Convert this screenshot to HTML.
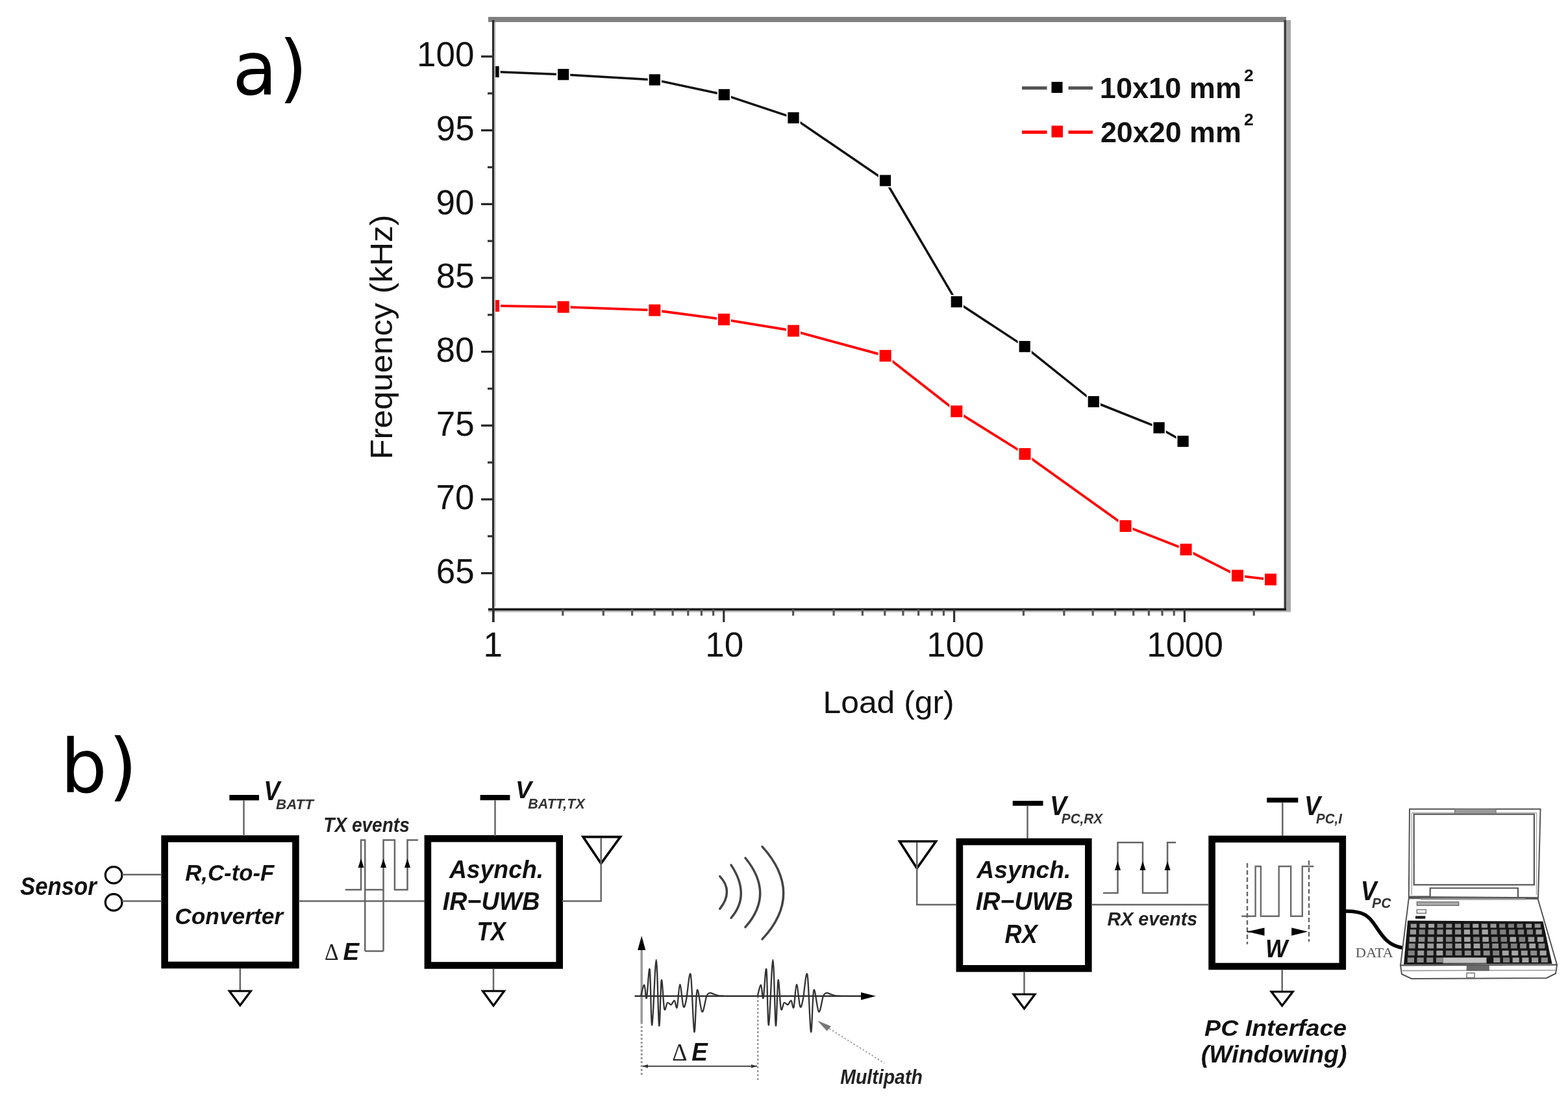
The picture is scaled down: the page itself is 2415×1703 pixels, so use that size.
<!DOCTYPE html>
<html><head><meta charset="utf-8"><title>Figure</title>
<style>html,body{margin:0;padding:0;background:#fff;overflow:hidden}svg{display:block}</style>
</head><body>
<svg width="2415" height="1703" viewBox="0 0 2415 1703">
<rect width="2415" height="1703" fill="#fff"/>
<rect x="752" y="26" width="1229" height="8" fill="#808080"/>
<rect x="1977.5" y="31" width="3.5" height="910" fill="#404040"/>
<rect x="1981" y="31" width="7" height="911" fill="#a8a8a8"/>
<rect x="752" y="936.5" width="1229" height="3.5" fill="#1a1a1a"/>
<rect x="752" y="940" width="1236" height="2.5" fill="#b0b0b0"/>
<rect x="758" y="31" width="3.2" height="927" fill="#2a2a2a"/>
<rect x="761.2" y="34" width="2" height="900" fill="#bdbdbd"/>
<rect x="741" y="881.0" width="18" height="3.2" fill="#222"/>
<rect x="741" y="767.3" width="18" height="3.2" fill="#222"/>
<rect x="741" y="653.6" width="18" height="3.2" fill="#222"/>
<rect x="741" y="540.0" width="18" height="3.2" fill="#222"/>
<rect x="741" y="426.3" width="18" height="3.2" fill="#222"/>
<rect x="741" y="312.7" width="18" height="3.2" fill="#222"/>
<rect x="741" y="199.1" width="18" height="3.2" fill="#222"/>
<rect x="741" y="85.4" width="18" height="3.2" fill="#222"/>
<rect x="751" y="142.2" width="8" height="3.2" fill="#333"/>
<rect x="751" y="255.9" width="8" height="3.2" fill="#333"/>
<rect x="751" y="369.5" width="8" height="3.2" fill="#333"/>
<rect x="751" y="483.2" width="8" height="3.2" fill="#333"/>
<rect x="751" y="596.8" width="8" height="3.2" fill="#333"/>
<rect x="751" y="710.5" width="8" height="3.2" fill="#333"/>
<rect x="751" y="824.1" width="8" height="3.2" fill="#333"/>
<rect x="758.4" y="938" width="3.2" height="20" fill="#333"/>
<rect x="865.2" y="938" width="3.2" height="10" fill="#555"/>
<rect x="927.7" y="938" width="3.2" height="10" fill="#555"/>
<rect x="972.0" y="938" width="3.2" height="10" fill="#555"/>
<rect x="1006.4" y="938" width="3.2" height="10" fill="#555"/>
<rect x="1034.5" y="938" width="3.2" height="10" fill="#555"/>
<rect x="1058.2" y="938" width="3.2" height="10" fill="#555"/>
<rect x="1078.8" y="938" width="3.2" height="10" fill="#555"/>
<rect x="1097.0" y="938" width="3.2" height="10" fill="#555"/>
<rect x="1113.2" y="938" width="3.2" height="20" fill="#333"/>
<rect x="1220.0" y="938" width="3.2" height="10" fill="#555"/>
<rect x="1282.5" y="938" width="3.2" height="10" fill="#555"/>
<rect x="1326.8" y="938" width="3.2" height="10" fill="#555"/>
<rect x="1361.2" y="938" width="3.2" height="10" fill="#555"/>
<rect x="1389.3" y="938" width="3.2" height="10" fill="#555"/>
<rect x="1413.0" y="938" width="3.2" height="10" fill="#555"/>
<rect x="1433.6" y="938" width="3.2" height="10" fill="#555"/>
<rect x="1451.8" y="938" width="3.2" height="10" fill="#555"/>
<rect x="1468.0" y="938" width="3.2" height="20" fill="#333"/>
<rect x="1574.8" y="938" width="3.2" height="10" fill="#555"/>
<rect x="1637.3" y="938" width="3.2" height="10" fill="#555"/>
<rect x="1681.6" y="938" width="3.2" height="10" fill="#555"/>
<rect x="1716.0" y="938" width="3.2" height="10" fill="#555"/>
<rect x="1744.1" y="938" width="3.2" height="10" fill="#555"/>
<rect x="1767.8" y="938" width="3.2" height="10" fill="#555"/>
<rect x="1788.4" y="938" width="3.2" height="10" fill="#555"/>
<rect x="1806.6" y="938" width="3.2" height="10" fill="#555"/>
<rect x="1822.8" y="938" width="3.2" height="20" fill="#333"/>
<rect x="1929.6" y="938" width="3.2" height="10" fill="#555"/>
<clipPath id="pc"><rect x="760.8" y="34" width="1217" height="903"/></clipPath>
<g clip-path="url(#pc)">
<path d="M760.0,110.5 L867.6,114.7 L1008.3,122.9 L1115.3,145.8 L1222.0,181.4 L1363.5,278.0 L1473.3,464.7 L1578.2,533.6 L1684.3,618.5 L1785.1,658.7 L1822.1,679.5" fill="none" stroke="#111" stroke-width="3.5" stroke-linejoin="round"/>
<path d="M760.0,470.9 L867.6,472.7 L1008.3,477.7 L1115.0,491.9 L1222.0,509.4 L1363.6,547.8 L1473.3,633.4 L1578.5,699.0 L1733.5,810.0 L1826.6,846.2 L1906.0,886.4 L1957.0,892.3" fill="none" stroke="#ff0000" stroke-width="3.8" stroke-linejoin="round"/>
<rect x="749.4" y="99.9" width="21.2" height="21.2" fill="#fff"/>
<rect x="751.4" y="101.9" width="17.2" height="17.2" fill="#000"/>
<rect x="857.0" y="104.1" width="21.2" height="21.2" fill="#fff"/>
<rect x="859.0" y="106.1" width="17.2" height="17.2" fill="#000"/>
<rect x="997.7" y="112.3" width="21.2" height="21.2" fill="#fff"/>
<rect x="999.7" y="114.3" width="17.2" height="17.2" fill="#000"/>
<rect x="1104.7" y="135.2" width="21.2" height="21.2" fill="#fff"/>
<rect x="1106.7" y="137.2" width="17.2" height="17.2" fill="#000"/>
<rect x="1211.4" y="170.8" width="21.2" height="21.2" fill="#fff"/>
<rect x="1213.4" y="172.8" width="17.2" height="17.2" fill="#000"/>
<rect x="1352.9" y="267.4" width="21.2" height="21.2" fill="#fff"/>
<rect x="1354.9" y="269.4" width="17.2" height="17.2" fill="#000"/>
<rect x="1462.7" y="454.1" width="21.2" height="21.2" fill="#fff"/>
<rect x="1464.7" y="456.1" width="17.2" height="17.2" fill="#000"/>
<rect x="1567.6" y="523.0" width="21.2" height="21.2" fill="#fff"/>
<rect x="1569.6" y="525.0" width="17.2" height="17.2" fill="#000"/>
<rect x="1673.7" y="607.9" width="21.2" height="21.2" fill="#fff"/>
<rect x="1675.7" y="609.9" width="17.2" height="17.2" fill="#000"/>
<rect x="1774.5" y="648.1" width="21.2" height="21.2" fill="#fff"/>
<rect x="1776.5" y="650.1" width="17.2" height="17.2" fill="#000"/>
<rect x="1811.5" y="668.9" width="21.2" height="21.2" fill="#fff"/>
<rect x="1813.5" y="670.9" width="17.2" height="17.2" fill="#000"/>
<rect x="749.0" y="459.9" width="22.0" height="22.0" fill="#fff"/>
<rect x="751.0" y="461.9" width="18" height="18" fill="#ff0000"/>
<rect x="856.6" y="461.7" width="22.0" height="22.0" fill="#fff"/>
<rect x="858.6" y="463.7" width="18" height="18" fill="#ff0000"/>
<rect x="997.3" y="466.7" width="22.0" height="22.0" fill="#fff"/>
<rect x="999.3" y="468.7" width="18" height="18" fill="#ff0000"/>
<rect x="1104.0" y="480.9" width="22.0" height="22.0" fill="#fff"/>
<rect x="1106.0" y="482.9" width="18" height="18" fill="#ff0000"/>
<rect x="1211.0" y="498.4" width="22.0" height="22.0" fill="#fff"/>
<rect x="1213.0" y="500.4" width="18" height="18" fill="#ff0000"/>
<rect x="1352.6" y="536.8" width="22.0" height="22.0" fill="#fff"/>
<rect x="1354.6" y="538.8" width="18" height="18" fill="#ff0000"/>
<rect x="1462.3" y="622.4" width="22.0" height="22.0" fill="#fff"/>
<rect x="1464.3" y="624.4" width="18" height="18" fill="#ff0000"/>
<rect x="1567.5" y="688.0" width="22.0" height="22.0" fill="#fff"/>
<rect x="1569.5" y="690.0" width="18" height="18" fill="#ff0000"/>
<rect x="1722.5" y="799.0" width="22.0" height="22.0" fill="#fff"/>
<rect x="1724.5" y="801.0" width="18" height="18" fill="#ff0000"/>
<rect x="1815.6" y="835.2" width="22.0" height="22.0" fill="#fff"/>
<rect x="1817.6" y="837.2" width="18" height="18" fill="#ff0000"/>
<rect x="1895.0" y="875.4" width="22.0" height="22.0" fill="#fff"/>
<rect x="1897.0" y="877.4" width="18" height="18" fill="#ff0000"/>
<rect x="1946.0" y="881.3" width="22.0" height="22.0" fill="#fff"/>
<rect x="1948.0" y="883.3" width="18" height="18" fill="#ff0000"/>
</g>
<rect x="758" y="31" width="3.2" height="927" fill="#2a2a2a"/>
<rect x="761.2" y="34" width="2" height="900" fill="#bdbdbd"/>
<rect x="1574" y="133" width="38.5" height="5" fill="#555"/>
<rect x="1645.5" y="133" width="37.5" height="5" fill="#555"/>
<rect x="1619.5" y="126" width="17" height="17" fill="#000"/>
<rect x="1574" y="201" width="38.5" height="5" fill="#ff0000"/>
<rect x="1645.5" y="201" width="37.5" height="5" fill="#ff0000"/>
<rect x="1619.5" y="193.5" width="17.5" height="18" fill="#ff0000"/>
<text transform="translate(671.7,897.9) scale(0.990,1)" style="font-family:'Liberation Sans',Arial,sans-serif;font-size:53.5px" fill="#111">65</text>
<text transform="translate(671.5,784.2) scale(0.990,1)" style="font-family:'Liberation Sans',Arial,sans-serif;font-size:53.5px" fill="#111">70</text>
<text transform="translate(671.7,670.5) scale(0.990,1)" style="font-family:'Liberation Sans',Arial,sans-serif;font-size:53.5px" fill="#111">75</text>
<text transform="translate(671.5,556.9) scale(0.990,1)" style="font-family:'Liberation Sans',Arial,sans-serif;font-size:53.5px" fill="#111">80</text>
<text transform="translate(671.7,443.2) scale(0.990,1)" style="font-family:'Liberation Sans',Arial,sans-serif;font-size:53.5px" fill="#111">85</text>
<text transform="translate(671.5,329.6) scale(0.990,1)" style="font-family:'Liberation Sans',Arial,sans-serif;font-size:53.5px" fill="#111">90</text>
<text transform="translate(671.7,216.0) scale(0.990,1)" style="font-family:'Liberation Sans',Arial,sans-serif;font-size:53.5px" fill="#111">95</text>
<text transform="translate(642.1,102.3) scale(0.990,1)" style="font-family:'Liberation Sans',Arial,sans-serif;font-size:53.5px" fill="#111">100</text>
<text transform="translate(744.5,1011.3) scale(0.990,1)" style="font-family:'Liberation Sans',Arial,sans-serif;font-size:53.5px" fill="#111">1</text>
<text transform="translate(1086.2,1011.3) scale(0.990,1)" style="font-family:'Liberation Sans',Arial,sans-serif;font-size:53.5px" fill="#111">10</text>
<text transform="translate(1427.3,1011.3) scale(0.990,1)" style="font-family:'Liberation Sans',Arial,sans-serif;font-size:53.5px" fill="#111">100</text>
<text transform="translate(1766.2,1011.3) scale(0.990,1)" style="font-family:'Liberation Sans',Arial,sans-serif;font-size:53.5px" fill="#111">1000</text>
<text transform="translate(1267.5,1098.2) scale(1.038,1)" style="font-family:'Liberation Sans',Arial,sans-serif;font-size:48.0px" fill="#111">Load (gr)</text>
<text transform="translate(604.2,707.6) rotate(-90) scale(1.042,1)" style="font-family:'Liberation Sans',Arial,sans-serif;font-size:49.0px" fill="#111">Frequency (kHz)</text>
<text transform="translate(1693.8,151.0) scale(1.026,1)" style="font-family:'Liberation Sans',Arial,sans-serif;font-weight:bold;font-size:44.0px" fill="#111">10x10 mm</text>
<text transform="translate(1694.9,218.9) scale(0.995,1)" style="font-family:'Liberation Sans',Arial,sans-serif;font-weight:bold;font-size:45.1px" fill="#111">20x20 mm</text>
<text transform="translate(1916.1,124.5) scale(1.018,1)" style="font-family:'Liberation Sans',Arial,sans-serif;font-weight:bold;font-size:26.0px" fill="#111">2</text>
<text transform="translate(1916.1,192.6) scale(1.007,1)" style="font-family:'Liberation Sans',Arial,sans-serif;font-weight:bold;font-size:26.3px" fill="#111">2</text>
<text transform="translate(358.1,145.3) scale(0.990,1)" style="font-family:'DejaVu Sans',sans-serif;font-size:114.0px" fill="#000">a<tspan dx="2.3" dy="-1.2">)</tspan></text>
<text transform="translate(93.3,1220.2) scale(0.990,1)" style="font-family:'DejaVu Sans',sans-serif;font-size:114.0px" fill="#000">b<tspan dx="2.4" dy="-0.8">)</tspan></text>
<rect x="253.6" y="1291.5" width="201.8" height="194.5" fill="none" stroke="#000" stroke-width="10.6"/>
<rect x="658.9" y="1291.3" width="202.8" height="195.2" fill="none" stroke="#000" stroke-width="10.6"/>
<rect x="1477.9" y="1296.1" width="198.4" height="195.2" fill="none" stroke="#000" stroke-width="10.6"/>
<rect x="1866.6" y="1292.0" width="201.2" height="196.0" fill="none" stroke="#000" stroke-width="10.6"/>
<rect x="353.3" y="1224" width="45.7" height="8.4" fill="#000"/>
<line x1="375.5" y1="1232.4" x2="375.5" y2="1287" stroke="#666" stroke-width="2.5" fill="none"/>
<rect x="739.6" y="1224" width="45.8" height="8.2" fill="#000"/>
<line x1="762.5" y1="1232.2" x2="762.5" y2="1287" stroke="#666" stroke-width="2.5" fill="none"/>
<rect x="1559.7" y="1233.1" width="46.8" height="7.6" fill="#000"/>
<line x1="1582.5" y1="1240.7" x2="1582.5" y2="1291" stroke="#666" stroke-width="2.5" fill="none"/>
<rect x="1951.2" y="1228.3" width="48.1" height="7.4" fill="#000"/>
<line x1="1975.3" y1="1235.7" x2="1975.3" y2="1287" stroke="#666" stroke-width="2.5" fill="none"/>
<line x1="369.8" y1="1491" x2="369.8" y2="1526" stroke="#666" stroke-width="2.5" fill="none"/>
<path d="M353.3,1526.0 L386.3,1526.0 L369.8,1548.0 Z" fill="#fff" stroke="#000" stroke-width="3.2" stroke-linejoin="miter"/>
<line x1="760" y1="1491.8" x2="760" y2="1526" stroke="#666" stroke-width="2.5" fill="none"/>
<path d="M743.5,1526.0 L776.5,1526.0 L760.0,1548.5 Z" fill="#fff" stroke="#000" stroke-width="3.2" stroke-linejoin="miter"/>
<line x1="1577.5" y1="1496.6" x2="1577.5" y2="1531" stroke="#666" stroke-width="2.5" fill="none"/>
<path d="M1561.0,1531.0 L1594.0,1531.0 L1577.5,1553.0 Z" fill="#fff" stroke="#000" stroke-width="3.2" stroke-linejoin="miter"/>
<line x1="1974.7" y1="1493.3" x2="1974.7" y2="1527" stroke="#666" stroke-width="2.5" fill="none"/>
<path d="M1958.2,1527.0 L1991.2,1527.0 L1974.7,1548.5 Z" fill="#fff" stroke="#000" stroke-width="3.2" stroke-linejoin="miter"/>
<circle cx="175.1" cy="1347.4" r="12.8" fill="none" stroke="#000" stroke-width="3.2"/>
<circle cx="175.1" cy="1389.4" r="12.8" fill="none" stroke="#000" stroke-width="3.2"/>
<line x1="188" y1="1346.8" x2="249" y2="1346.8" stroke="#666" stroke-width="2.5" fill="none"/>
<line x1="188" y1="1387.6" x2="249" y2="1387.6" stroke="#666" stroke-width="2.5" fill="none"/>
<line x1="460" y1="1387.4" x2="654" y2="1387.4" stroke="#666" stroke-width="2.5" fill="none"/>
<path d="M531.7,1369.9 H556 V1293.6 H562.2 V1369.9 H590.5 V1293.6 H607.9 V1369.9 H627.5 V1293.6 H643.8" stroke="#666" stroke-width="2.5" fill="none"/>
<path d="M562.2,1369.9 V1464.6 M590.5,1369.9 V1464.6 M562.2,1464.6 H590.5" stroke="#666" stroke-width="2.5" fill="none"/>
<path d="M551.5,1336 L560.5,1336 L556.0,1322 Z" fill="#000"/>
<path d="M586.0,1336 L595.0,1336 L590.5,1322 Z" fill="#000"/>
<path d="M623.0,1336 L632.0,1336 L627.5,1322 Z" fill="#000"/>
<path d="M898,1288.6 L955.5,1288.6 L925.7,1329.5 Z" fill="none" stroke="#000" stroke-width="3.6" stroke-linejoin="miter"/>
<path d="M925.7,1290 V1387.4 H866" stroke="#666" stroke-width="2.5" fill="none"/>
<path d="M1385.5,1295.5 L1441.5,1295.5 L1412.2,1337 Z" fill="none" stroke="#000" stroke-width="3.6" stroke-linejoin="miter"/>
<path d="M1412.2,1297 V1393.1 H1473" stroke="#666" stroke-width="2.5" fill="none"/>
<line x1="1681" y1="1393.1" x2="1862" y2="1393.1" stroke="#666" stroke-width="2.5" fill="none"/>
<path d="M1699,1375 H1721.5 V1297.3 H1760 V1375 H1798.1 V1297.3 H1811.2" stroke="#666" stroke-width="2.5" fill="none"/>
<path d="M1717.0,1340 L1726.0,1340 L1721.5,1326 Z" fill="#000"/>
<path d="M1755.5,1340 L1764.5,1340 L1760.0,1326 Z" fill="#000"/>
<path d="M1793.6,1340 L1802.6,1340 L1798.1,1326 Z" fill="#000"/>
<path d="M1912.3,1410.8 H1933.6 V1334 H1941.9 V1410.8 H1969.7 V1334 H1988.2 V1410.8 H2005.8 V1334 H2023.4" stroke="#6a6a6a" stroke-width="2.4" fill="none"/>
<line x1="1921" y1="1329" x2="1921" y2="1454" stroke="#666" stroke-width="2.4" stroke-dasharray="7,4"/>
<line x1="2016" y1="1325" x2="2016" y2="1450" stroke="#666" stroke-width="2.4" stroke-dasharray="7,4"/>
<path d="M1921,1434.6 L1947.5,1428.4 L1947.5,1440.8 Z" fill="#000"/>
<path d="M2014.2,1434.6 L1989.2,1428.4 L1989.2,1440.8 Z" fill="#000"/>
<line x1="1921" y1="1434.6" x2="1947" y2="1434.6" stroke="#000" stroke-width="2"/>
<path d="M1108.7,1349.3 Q1130.3,1372.1 1108.7,1399.4" fill="none" stroke="#444" stroke-width="3.4" stroke-linecap="round"/>
<path d="M1126,1331.9 Q1156.6,1378.1 1126,1413.5" fill="none" stroke="#444" stroke-width="3.4" stroke-linecap="round"/>
<path d="M1147.9,1321 Q1193.5,1376.5 1147.9,1427.7" fill="none" stroke="#444" stroke-width="3.4" stroke-linecap="round"/>
<path d="M1174,1303.6 Q1239.4,1375.9 1174,1446.2" fill="none" stroke="#444" stroke-width="3.4" stroke-linecap="round"/>
<line x1="988.2" y1="1460" x2="988.2" y2="1574" stroke="#999" stroke-width="3.5"/>
<line x1="988.2" y1="1574" x2="988.2" y2="1655" stroke="#999" stroke-width="3" stroke-dasharray="3,3"/>
<line x1="1167.2" y1="1534" x2="1167.2" y2="1665" stroke="#999" stroke-width="2.5" stroke-dasharray="3,3"/>
<path d="M988.2,1441 L994.3,1463 L982.1,1463 Z" fill="#000"/>
<line x1="977.5" y1="1533.8" x2="1330" y2="1533.8" stroke="#333" stroke-width="2.6"/>
<path d="M1349,1533.8 L1326,1528 L1326,1539.8 Z" fill="#000"/>
<line x1="990" y1="1641.7" x2="1166" y2="1641.7" stroke="#444" stroke-width="2"/>
<path d="M989,1641.7 L998,1639 L998,1644.4 Z" fill="#333"/>
<path d="M1166,1641.7 L1157,1639 L1157,1644.4 Z" fill="#333"/>
<path d="M987.0,1533.8 C987.9,1530.9 990.8,1516.1 992.3,1516.6 C993.8,1517.1 994.5,1540.6 995.9,1536.6 C997.3,1532.6 999.3,1485.5 1000.7,1492.5 C1002.1,1499.5 1002.6,1580.8 1004.3,1578.4 C1006.0,1576.0 1008.9,1477.9 1010.7,1478.0 C1012.5,1478.1 1013.8,1574.0 1015.1,1579.2 C1016.5,1584.4 1017.4,1513.6 1018.8,1509.3 C1020.1,1505.0 1021.7,1547.7 1023.2,1553.5 C1024.7,1559.3 1026.3,1545.0 1028.0,1543.9 C1029.7,1542.8 1031.8,1547.6 1033.6,1547.1 C1035.4,1546.5 1037.3,1539.9 1038.8,1540.6 C1040.3,1541.3 1041.4,1555.2 1042.8,1551.1 C1044.2,1547.0 1045.6,1516.1 1047.2,1515.8 C1048.8,1515.5 1050.9,1545.5 1052.5,1549.5 C1054.1,1553.5 1055.0,1548.0 1056.9,1539.8 C1058.8,1531.6 1061.6,1492.3 1063.7,1500.5 C1065.8,1508.7 1067.6,1584.8 1069.3,1588.8 C1071.0,1592.8 1071.7,1529.8 1073.7,1524.6 C1075.7,1519.4 1079.0,1556.3 1081.4,1557.9 C1083.8,1559.5 1086.3,1539.0 1088.2,1534.2 C1090.1,1529.4 1091.0,1529.5 1093.0,1529.0 C1095.0,1528.5 1097.8,1530.3 1100.2,1531.0 C1102.6,1531.7 1105.0,1532.9 1107.5,1533.4 C1110.0,1533.9 1113.8,1533.7 1115.0,1533.8" fill="none" stroke="#333" stroke-width="2.3"/>
<path transform="translate(179.7,0)" d="M987.0,1533.8 C987.9,1530.9 990.8,1516.1 992.3,1516.6 C993.8,1517.1 994.5,1540.6 995.9,1536.6 C997.3,1532.6 999.3,1485.5 1000.7,1492.5 C1002.1,1499.5 1002.6,1580.8 1004.3,1578.4 C1006.0,1576.0 1008.9,1477.9 1010.7,1478.0 C1012.5,1478.1 1013.8,1574.0 1015.1,1579.2 C1016.5,1584.4 1017.4,1513.6 1018.8,1509.3 C1020.1,1505.0 1021.7,1547.7 1023.2,1553.5 C1024.7,1559.3 1026.3,1545.0 1028.0,1543.9 C1029.7,1542.8 1031.8,1547.6 1033.6,1547.1 C1035.4,1546.5 1037.3,1539.9 1038.8,1540.6 C1040.3,1541.3 1041.4,1555.2 1042.8,1551.1 C1044.2,1547.0 1045.6,1516.1 1047.2,1515.8 C1048.8,1515.5 1050.9,1545.5 1052.5,1549.5 C1054.1,1553.5 1055.0,1548.0 1056.9,1539.8 C1058.8,1531.6 1061.6,1492.3 1063.7,1500.5 C1065.8,1508.7 1067.6,1584.8 1069.3,1588.8 C1071.0,1592.8 1071.7,1529.8 1073.7,1524.6 C1075.7,1519.4 1079.0,1556.3 1081.4,1557.9 C1083.8,1559.5 1086.3,1539.0 1088.2,1534.2 C1090.1,1529.4 1091.0,1529.5 1093.0,1529.0 C1095.0,1528.5 1097.8,1530.3 1100.2,1531.0 C1102.6,1531.7 1105.0,1532.9 1107.5,1533.4 C1110.0,1533.9 1113.8,1533.7 1115.0,1533.8" fill="none" stroke="#333" stroke-width="2.3"/>
<line x1="1268" y1="1578" x2="1362" y2="1637" stroke="#999" stroke-width="1.8" stroke-dasharray="2.5,3"/>
<path d="M1258.9,1571.6 L1280.1,1580.2 L1273.6,1587.5 Z" fill="#777"/>
<path d="M2073,1403 C2100,1403 2108,1410 2118,1425 C2130,1443 2138,1456 2161,1459.6" fill="none" stroke="#000" stroke-width="5.5"/>
<path d="M2171,1245.8 L2372.5,1245.8 L2369.1,1382.2 L2169.8,1381.1 Z" fill="#fff" stroke="#555" stroke-width="2"/>
<path d="M2174.3,1252 L2174.3,1378 M2174.3,1251.5 H2240 M2304,1251.5 H2366.5 V1378" fill="none" stroke="#aaa" stroke-width="1.4"/>
<rect x="2177.7" y="1253.7" width="185.2" height="108.7" fill="#fff" stroke="#555" stroke-width="2.2"/>
<rect x="2240.6" y="1245.8" width="63.4" height="7.3" fill="#999" stroke="#666" stroke-width="1"/>
<path d="M2170.4,1380.5 H2202.7 V1367.5 H2338 V1382.8 H2368.6" fill="none" stroke="#555" stroke-width="2.2"/>
<path d="M2169.8,1383 L2368.6,1384 L2398,1485.5 L2157,1486.6 Z" fill="#fff" stroke="#555" stroke-width="2"/>
<line x1="2188.5" y1="1384.8" x2="2349.3" y2="1384.8" stroke="#aaa" stroke-width="2.6"/>
<path d="M2168.1,1417.6 L2376.5,1418.7 L2390.5,1484 L2162,1485 Z" fill="#161616"/>
<rect x="2182.3" y="1388.7" width="64.5" height="5.6" fill="#aaa" stroke="#666" stroke-width="1.2"/>
<rect x="2182.3" y="1400.6" width="14" height="5.6" fill="#fff" stroke="#777" stroke-width="1.5"/>
<rect x="2180" y="1410.4" width="15.3" height="4.2" fill="#1a1a1a"/>
<rect x="2172.7" y="1422.5" width="9.1" height="6" fill="#9a9a9a"/>
<rect x="2186.3" y="1422.5" width="9.1" height="6" fill="#9a9a9a"/>
<rect x="2200.0" y="1422.5" width="9.1" height="6" fill="#a6a6a6"/>
<rect x="2213.6" y="1422.5" width="9.1" height="6" fill="#808080"/>
<rect x="2227.2" y="1422.5" width="9.1" height="6" fill="#8c8c8c"/>
<rect x="2240.9" y="1422.5" width="9.1" height="6" fill="#8c8c8c"/>
<rect x="2254.5" y="1422.5" width="9.1" height="6" fill="#808080"/>
<rect x="2268.2" y="1422.5" width="9.1" height="6" fill="#a6a6a6"/>
<rect x="2281.8" y="1422.5" width="9.1" height="6" fill="#9a9a9a"/>
<rect x="2295.5" y="1422.5" width="9.1" height="6" fill="#9a9a9a"/>
<rect x="2309.1" y="1422.5" width="9.1" height="6" fill="#808080"/>
<rect x="2322.8" y="1422.5" width="9.1" height="6" fill="#808080"/>
<rect x="2336.4" y="1422.5" width="9.1" height="6" fill="#808080"/>
<rect x="2350.0" y="1422.5" width="9.1" height="6" fill="#9a9a9a"/>
<rect x="2363.7" y="1422.5" width="9.1" height="6" fill="#9a9a9a"/>
<rect x="2171.8" y="1431.3" width="9.3" height="7.5" fill="#9a9a9a"/>
<rect x="2185.6" y="1431.3" width="9.3" height="7.5" fill="#808080"/>
<rect x="2199.5" y="1431.3" width="9.3" height="7.5" fill="#8c8c8c"/>
<rect x="2213.3" y="1431.3" width="9.3" height="7.5" fill="#8c8c8c"/>
<rect x="2227.1" y="1431.3" width="9.3" height="7.5" fill="#9a9a9a"/>
<rect x="2241.0" y="1431.3" width="9.3" height="7.5" fill="#8c8c8c"/>
<rect x="2254.8" y="1431.3" width="9.3" height="7.5" fill="#a6a6a6"/>
<rect x="2268.6" y="1431.3" width="9.3" height="7.5" fill="#8c8c8c"/>
<rect x="2282.5" y="1431.3" width="9.3" height="7.5" fill="#a6a6a6"/>
<rect x="2296.3" y="1431.3" width="9.3" height="7.5" fill="#808080"/>
<rect x="2310.2" y="1431.3" width="9.3" height="7.5" fill="#808080"/>
<rect x="2324.0" y="1431.3" width="9.3" height="7.5" fill="#808080"/>
<rect x="2337.8" y="1431.3" width="9.3" height="7.5" fill="#808080"/>
<rect x="2351.7" y="1431.3" width="9.3" height="7.5" fill="#808080"/>
<rect x="2365.5" y="1431.3" width="9.3" height="7.5" fill="#9a9a9a"/>
<rect x="2170.7" y="1442.7" width="9.6" height="7.5" fill="#a6a6a6"/>
<rect x="2184.8" y="1442.7" width="9.6" height="7.5" fill="#8c8c8c"/>
<rect x="2198.9" y="1442.7" width="9.6" height="7.5" fill="#8c8c8c"/>
<rect x="2212.9" y="1442.7" width="9.6" height="7.5" fill="#9a9a9a"/>
<rect x="2227.0" y="1442.7" width="9.6" height="7.5" fill="#808080"/>
<rect x="2241.1" y="1442.7" width="9.6" height="7.5" fill="#9a9a9a"/>
<rect x="2255.1" y="1442.7" width="9.6" height="7.5" fill="#a6a6a6"/>
<rect x="2269.2" y="1442.7" width="9.6" height="7.5" fill="#808080"/>
<rect x="2283.3" y="1442.7" width="9.6" height="7.5" fill="#a6a6a6"/>
<rect x="2297.3" y="1442.7" width="9.6" height="7.5" fill="#808080"/>
<rect x="2311.4" y="1442.7" width="9.6" height="7.5" fill="#808080"/>
<rect x="2325.5" y="1442.7" width="9.6" height="7.5" fill="#a6a6a6"/>
<rect x="2339.5" y="1442.7" width="9.6" height="7.5" fill="#808080"/>
<rect x="2353.6" y="1442.7" width="9.6" height="7.5" fill="#9a9a9a"/>
<rect x="2367.7" y="1442.7" width="9.6" height="7.5" fill="#a6a6a6"/>
<rect x="2169.8" y="1452.8" width="9.8" height="7.5" fill="#8c8c8c"/>
<rect x="2184.1" y="1452.8" width="9.8" height="7.5" fill="#a6a6a6"/>
<rect x="2198.4" y="1452.8" width="9.8" height="7.5" fill="#9a9a9a"/>
<rect x="2212.6" y="1452.8" width="9.8" height="7.5" fill="#a6a6a6"/>
<rect x="2226.9" y="1452.8" width="9.8" height="7.5" fill="#8c8c8c"/>
<rect x="2241.2" y="1452.8" width="9.8" height="7.5" fill="#9a9a9a"/>
<rect x="2255.4" y="1452.8" width="9.8" height="7.5" fill="#a6a6a6"/>
<rect x="2269.7" y="1452.8" width="9.8" height="7.5" fill="#a6a6a6"/>
<rect x="2284.0" y="1452.8" width="9.8" height="7.5" fill="#8c8c8c"/>
<rect x="2298.2" y="1452.8" width="9.8" height="7.5" fill="#8c8c8c"/>
<rect x="2312.5" y="1452.8" width="9.8" height="7.5" fill="#808080"/>
<rect x="2326.8" y="1452.8" width="9.8" height="7.5" fill="#808080"/>
<rect x="2341.1" y="1452.8" width="9.8" height="7.5" fill="#8c8c8c"/>
<rect x="2355.3" y="1452.8" width="9.8" height="7.5" fill="#a6a6a6"/>
<rect x="2369.6" y="1452.8" width="9.8" height="7.5" fill="#8c8c8c"/>
<rect x="2168.8" y="1463.7" width="10.0" height="7.5" fill="#808080"/>
<rect x="2183.3" y="1463.7" width="10.0" height="7.5" fill="#9a9a9a"/>
<rect x="2197.8" y="1463.7" width="10.0" height="7.5" fill="#8c8c8c"/>
<rect x="2212.3" y="1463.7" width="10.0" height="7.5" fill="#a6a6a6"/>
<rect x="2226.8" y="1463.7" width="10.0" height="7.5" fill="#808080"/>
<rect x="2241.3" y="1463.7" width="10.0" height="7.5" fill="#808080"/>
<rect x="2255.8" y="1463.7" width="10.0" height="7.5" fill="#8c8c8c"/>
<rect x="2270.2" y="1463.7" width="10.0" height="7.5" fill="#8c8c8c"/>
<rect x="2284.7" y="1463.7" width="10.0" height="7.5" fill="#8c8c8c"/>
<rect x="2299.2" y="1463.7" width="10.0" height="7.5" fill="#808080"/>
<rect x="2313.7" y="1463.7" width="10.0" height="7.5" fill="#a6a6a6"/>
<rect x="2328.2" y="1463.7" width="10.0" height="7.5" fill="#a6a6a6"/>
<rect x="2342.7" y="1463.7" width="10.0" height="7.5" fill="#9a9a9a"/>
<rect x="2357.2" y="1463.7" width="10.0" height="7.5" fill="#8c8c8c"/>
<rect x="2371.7" y="1463.7" width="10.0" height="7.5" fill="#a6a6a6"/>
<rect x="2167.8" y="1474.5" width="10.2" height="7.5" fill="#8c8c8c"/>
<rect x="2182.5" y="1474.5" width="10.2" height="7.5" fill="#8c8c8c"/>
<rect x="2197.2" y="1474.5" width="10.2" height="7.5" fill="#8c8c8c"/>
<rect x="2211.9" y="1474.5" width="10.2" height="7.5" fill="#8c8c8c"/>
<rect x="2300.2" y="1474.5" width="10.2" height="7.5" fill="#9a9a9a"/>
<rect x="2314.9" y="1474.5" width="10.2" height="7.5" fill="#808080"/>
<rect x="2329.6" y="1474.5" width="10.2" height="7.5" fill="#a6a6a6"/>
<rect x="2344.3" y="1474.5" width="10.2" height="7.5" fill="#a6a6a6"/>
<rect x="2359.0" y="1474.5" width="10.2" height="7.5" fill="#9a9a9a"/>
<rect x="2373.7" y="1474.5" width="10.2" height="7.5" fill="#8c8c8c"/>
<rect x="2222.5" y="1474.5" width="66.8" height="8.5" fill="#c4c4c4" stroke="#777" stroke-width="1"/>
<path d="M2157,1486.6 L2398,1485.5 L2396,1499 L2382,1506 L2174,1507 L2159,1500 Z" fill="#fff" stroke="#555" stroke-width="2"/>
<path d="M2160,1494.6 L2395,1494" stroke="#999" stroke-width="1.6"/>
<rect x="2258.7" y="1486.6" width="35.1" height="8.5" fill="#6a6a6a"/>
<rect x="2259" y="1498.2" width="12" height="7.2" fill="#fff" stroke="#777" stroke-width="1.5"/>
<text transform="translate(31.0,1377.6) scale(0.916,1)" style="font-family:'Liberation Sans',Arial,sans-serif;font-weight:bold;font-style:italic;font-size:37.9px" fill="#111">Sensor</text>
<text transform="translate(285.2,1355.9) scale(0.991,1)" style="font-family:'Liberation Sans',Arial,sans-serif;font-weight:bold;font-style:italic;font-size:35.1px" fill="#111">R,C-to-F</text>
<text transform="translate(269.3,1423.3) scale(1.026,1)" style="font-family:'Liberation Sans',Arial,sans-serif;font-weight:bold;font-style:italic;font-size:34.4px" fill="#111">Converter</text>
<text transform="translate(406.2,1231.9) scale(0.899,1)" style="font-family:'Liberation Sans',Arial,sans-serif;font-weight:bold;font-style:italic;font-size:41.6px" fill="#111">V</text>
<text transform="translate(425.1,1245.6) scale(1.004,1)" style="font-family:'Liberation Sans',Arial,sans-serif;font-weight:bold;font-style:italic;font-size:22.2px" fill="#333">BATT</text>
<text transform="translate(498.3,1280.6) scale(0.914,1)" style="font-family:'Liberation Sans',Arial,sans-serif;font-weight:bold;font-style:italic;font-size:30.7px" fill="#222">TX events</text>
<text transform="translate(691.9,1352.4) scale(0.977,1)" style="font-family:'Liberation Sans',Arial,sans-serif;font-weight:bold;font-style:italic;font-size:38.2px" fill="#111">Asynch.</text>
<text transform="translate(681.8,1401.4) scale(0.979,1)" style="font-family:'Liberation Sans',Arial,sans-serif;font-weight:bold;font-style:italic;font-size:38.5px" fill="#111">IR−UWB</text>
<text transform="translate(734.6,1448.3) scale(0.861,1)" style="font-family:'Liberation Sans',Arial,sans-serif;font-weight:bold;font-style:italic;font-size:40.1px" fill="#111">TX</text>
<text transform="translate(794.0,1229.2) scale(0.988,1)" style="font-family:'Liberation Sans',Arial,sans-serif;font-weight:bold;font-style:italic;font-size:37.8px" fill="#111">V</text>
<text transform="translate(813.2,1244.9) scale(0.983,1)" style="font-family:'Liberation Sans',Arial,sans-serif;font-weight:bold;font-style:italic;font-size:21.9px" fill="#333">BATT,TX</text>
<text transform="translate(1294.2,1669.0) scale(0.932,1)" style="font-family:'Liberation Sans',Arial,sans-serif;font-weight:bold;font-style:italic;font-size:30.6px" fill="#222">Multipath</text>
<text transform="translate(1617.1,1255.3) scale(0.910,1)" style="font-family:'Liberation Sans',Arial,sans-serif;font-weight:bold;font-style:italic;font-size:42.6px" fill="#111">V</text>
<text transform="translate(1634.8,1267.7) scale(0.926,1)" style="font-family:'Liberation Sans',Arial,sans-serif;font-weight:bold;font-style:italic;font-size:22.4px" fill="#333">PC,RX</text>
<text transform="translate(1504.3,1351.8) scale(1.014,1)" style="font-family:'Liberation Sans',Arial,sans-serif;font-weight:bold;font-style:italic;font-size:36.8px" fill="#111">Asynch.</text>
<text transform="translate(1502.8,1400.7) scale(0.981,1)" style="font-family:'Liberation Sans',Arial,sans-serif;font-weight:bold;font-style:italic;font-size:38.5px" fill="#111">IR−UWB</text>
<text transform="translate(1547.6,1451.9) scale(0.900,1)" style="font-family:'Liberation Sans',Arial,sans-serif;font-weight:bold;font-style:italic;font-size:40.1px" fill="#111">RX</text>
<text transform="translate(1705.6,1424.7) scale(0.985,1)" style="font-family:'Liberation Sans',Arial,sans-serif;font-weight:bold;font-style:italic;font-size:29.1px" fill="#222">RX events</text>
<text transform="translate(2009.0,1255.3) scale(0.871,1)" style="font-family:'Liberation Sans',Arial,sans-serif;font-weight:bold;font-style:italic;font-size:42.9px" fill="#111">V</text>
<text transform="translate(2027.1,1267.8) scale(0.916,1)" style="font-family:'Liberation Sans',Arial,sans-serif;font-weight:bold;font-style:italic;font-size:22.3px" fill="#333">PC,I</text>
<text transform="translate(1949.1,1473.8) scale(0.953,1)" style="font-family:'Liberation Sans',Arial,sans-serif;font-weight:bold;font-style:italic;font-size:38.0px" fill="#111">W</text>
<text transform="translate(2095.8,1386.0) scale(0.885,1)" style="font-family:'Liberation Sans',Arial,sans-serif;font-weight:bold;font-style:italic;font-size:41.7px" fill="#111">V</text>
<text transform="translate(2113.1,1398.2) scale(0.928,1)" style="font-family:'Liberation Sans',Arial,sans-serif;font-weight:bold;font-style:italic;font-size:22.7px" fill="#333">PC</text>
<text transform="translate(2087.7,1474.4) scale(1.043,1)" style="font-family:'Liberation Serif','Times New Roman',serif;font-size:21.5px" fill="#555">DATA</text>
<text transform="translate(1855.1,1595.0) scale(1.064,1)" style="font-family:'Liberation Sans',Arial,sans-serif;font-weight:bold;font-style:italic;font-size:35.3px" fill="#111">PC Interface</text>
<text transform="translate(1849.8,1635.5) scale(1.011,1)" style="font-family:'Liberation Sans',Arial,sans-serif;font-weight:bold;font-style:italic;font-size:37.1px" fill="#111">(Windowing)</text>
<text transform="translate(528.4,1478.3) scale(0.990,1)" style="font-family:'Liberation Sans',Arial,sans-serif;font-weight:bold;font-style:italic;font-size:37.2px" fill="#111">E</text>
<text transform="translate(1065.3,1633.4) scale(0.928,1)" style="font-family:'Liberation Sans',Arial,sans-serif;font-weight:bold;font-style:italic;font-size:39.7px" fill="#111">E</text>
<text transform="translate(500.0,1478.3) scale(0.953,1)" style="font-family:'Liberation Serif','Times New Roman',serif;font-size:35.3px" fill="#222">Δ</text>
<text transform="translate(1035.3,1633.4) scale(0.953,1)" style="font-family:'Liberation Serif','Times New Roman',serif;font-size:37.9px" fill="#222">Δ</text>
</svg>
</body></html>
